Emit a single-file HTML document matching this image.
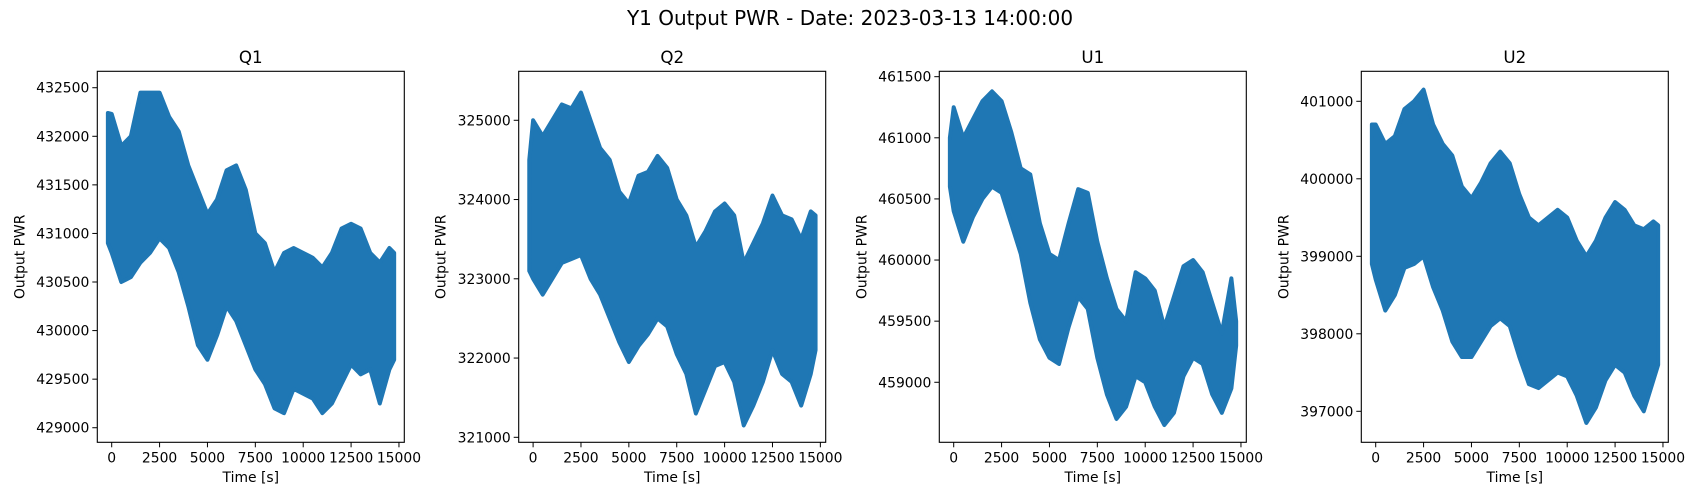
<!DOCTYPE html>
<html><head><meta charset="utf-8"><style>
body{margin:0;background:#fff}
svg{display:block;font-family:"DejaVu Sans","Liberation Sans",sans-serif}
</style></head><body>
<svg id="fig" width="1700" height="500" viewBox="0 0 1700 500" xmlns="http://www.w3.org/2000/svg">
<text x="850" y="25" font-size="20" text-anchor="middle">Y1 Output PWR - Date: 2023-03-13 14:00:00</text>
</svg>
<script>
const times=[-200,0,500,1000,1500,2000,2500,3000,3500,4000,4500,5000,5500,6000,6500,7000,7500,8000,8500,9000,9500,10000,10500,11000,11500,12000,12500,13000,13500,14000,14500,14750];
const xTicks=[0,2500,5000,7500,10000,12500,15000];
const q1Upper=[432240,432230,431900,432000,432450,432450,432450,432200,432050,431700,431450,431200,431350,431650,431700,431450,431000,430900,430600,430800,430850,430800,430750,430650,430800,431050,431100,431050,430800,430700,430850,430800];
const q1Lower=[430900,430800,430500,430550,430700,430800,430950,430850,430600,430250,429850,429700,429950,430250,430100,429850,429600,429450,429200,429150,429400,429350,429300,429150,429250,429450,429650,429550,429600,429250,429600,429700];
const q1Ticks=[429000,429500,430000,430500,431000,431500,432000,432500];
const q2Upper=[324500,325000,324800,325000,325200,325150,325350,325000,324650,324500,324100,323950,324300,324350,324550,324400,324000,323800,323400,323600,323850,323950,323800,323200,323450,323700,324050,323800,323750,323500,323850,323800];
const q2Lower=[323100,323000,322800,323000,323200,323250,323300,323000,322800,322500,322200,321950,322150,322300,322500,322400,322050,321800,321300,321600,321900,321950,321700,321150,321400,321700,322100,321800,321700,321400,321800,322100];
const q2Ticks=[321000,322000,323000,324000,325000];
const u1Upper=[461000,461250,461000,461150,461300,461380,461300,461050,460750,460700,460300,460050,460000,460300,460580,460550,460150,459850,459600,459500,459900,459850,459750,459450,459700,459950,460000,459900,459650,459400,459850,459500];
const u1Lower=[460600,460400,460150,460350,460500,460600,460550,460300,460050,459650,459350,459200,459150,459450,459700,459600,459200,458900,458700,458800,459050,459000,458800,458650,458750,459050,459200,459150,458900,458750,458950,459300];
const u1Ticks=[459000,459500,460000,460500,461000,461500];
const u2Upper=[400700,400700,400450,400550,400900,401000,401150,400700,400450,400300,399900,399750,399950,400200,400350,400200,399800,399500,399400,399500,399600,399500,399200,399000,399200,399500,399700,399600,399400,399350,399450,399400];
const u2Lower=[398900,398700,398300,398500,398850,398900,399000,398600,398300,397900,397700,397700,397900,398100,398200,398100,397700,397350,397300,397400,397500,397450,397200,396850,397050,397400,397600,397500,397200,397000,397400,397600];
const u2Ticks=[397000,398000,399000,400000,401000];

const NS="http://www.w3.org/2000/svg";
const fig=document.getElementById('fig');
function mk(tag,attrs,parent){const e=document.createElementNS(NS,tag);for(const k in attrs)e.setAttribute(k,attrs[k]);(parent||fig).appendChild(e);return e;}
const panels=[
 {name:'q1',title:'Q1',left:97.3,up:q1Upper,lo:q1Lower,ticks:q1Ticks,ymin:428850,ymax:432669},
 {name:'q2',title:'Q2',left:518.7,up:q2Upper,lo:q2Lower,ticks:q2Ticks,ymin:320937,ymax:325618},
 {name:'u1',title:'U1',left:939.3,up:u1Upper,lo:u1Lower,ticks:u1Ticks,ymin:458509,ymax:461544},
 {name:'u2',title:'U2',left:1361.3,up:u2Upper,lo:u2Lower,ticks:u2Ticks,ymin:396600,ymax:401387}
];
const W=307,T=71.3,B=442.3,xmin=-752,xmax=15279;
panels.forEach(p=>{
 const g=mk('g',{});
 
 
 const X=v=>p.left+(v-xmin)/(xmax-xmin)*W;
 const Y=v=>B-(v-p.ymin)/(p.ymax-p.ymin)*(B-T);
 let pts=times.map((t,i)=>X(t)+','+Y(p.up[i]));
 for(let i=times.length-1;i>=0;i--)pts.push(X(times[i])+','+Y(p.lo[i]));
 const poly=mk('polygon',{points:pts.join(' '),fill:'#1f77b4',stroke:'#1f77b4','stroke-width':4,'stroke-linejoin':'round'},g);
 
 
 const fr=mk('rect',{x:p.left,y:T,width:W,height:B-T,fill:'none',stroke:'#000','stroke-width':1.1},g);
 
 
 xTicks.forEach(t=>{
  const x=X(t);
  mk('line',{x1:x,x2:x,y1:B,y2:B+5,stroke:'#000','stroke-width':1},g);
  const tx=mk('text',{x:x,y:B+20,'font-size':13.9,'text-anchor':'middle'},g);
  tx.textContent=t;
  
  
 });
 p.ticks.forEach(t=>{
  const y=Y(t);
  mk('line',{x1:p.left-5,x2:p.left,y1:y,y2:y,stroke:'#000','stroke-width':1},g);
  const tx=mk('text',{x:p.left-8,y:y+5,'font-size':13.9,'text-anchor':'end'},g);
  tx.textContent=t;
  
  
 });
 const ti=mk('text',{x:p.left+W/2,y:63,'font-size':16.7,'text-anchor':'middle'},g);
 ti.textContent=p.title;
 
 
 const xl=mk('text',{x:p.left+W/2,y:482,'font-size':13.9,'text-anchor':'middle'},g);
 xl.textContent='Time [s]';
 
 
 const yx=p.left-73,yc=(T+B)/2;
 const yl=mk('text',{x:yx,y:yc,'font-size':13.9,'text-anchor':'middle',transform:`rotate(-90 ${yx} ${yc})`},g);
 yl.textContent='Output PWR';
 
 
});
</script>
</body></html>
